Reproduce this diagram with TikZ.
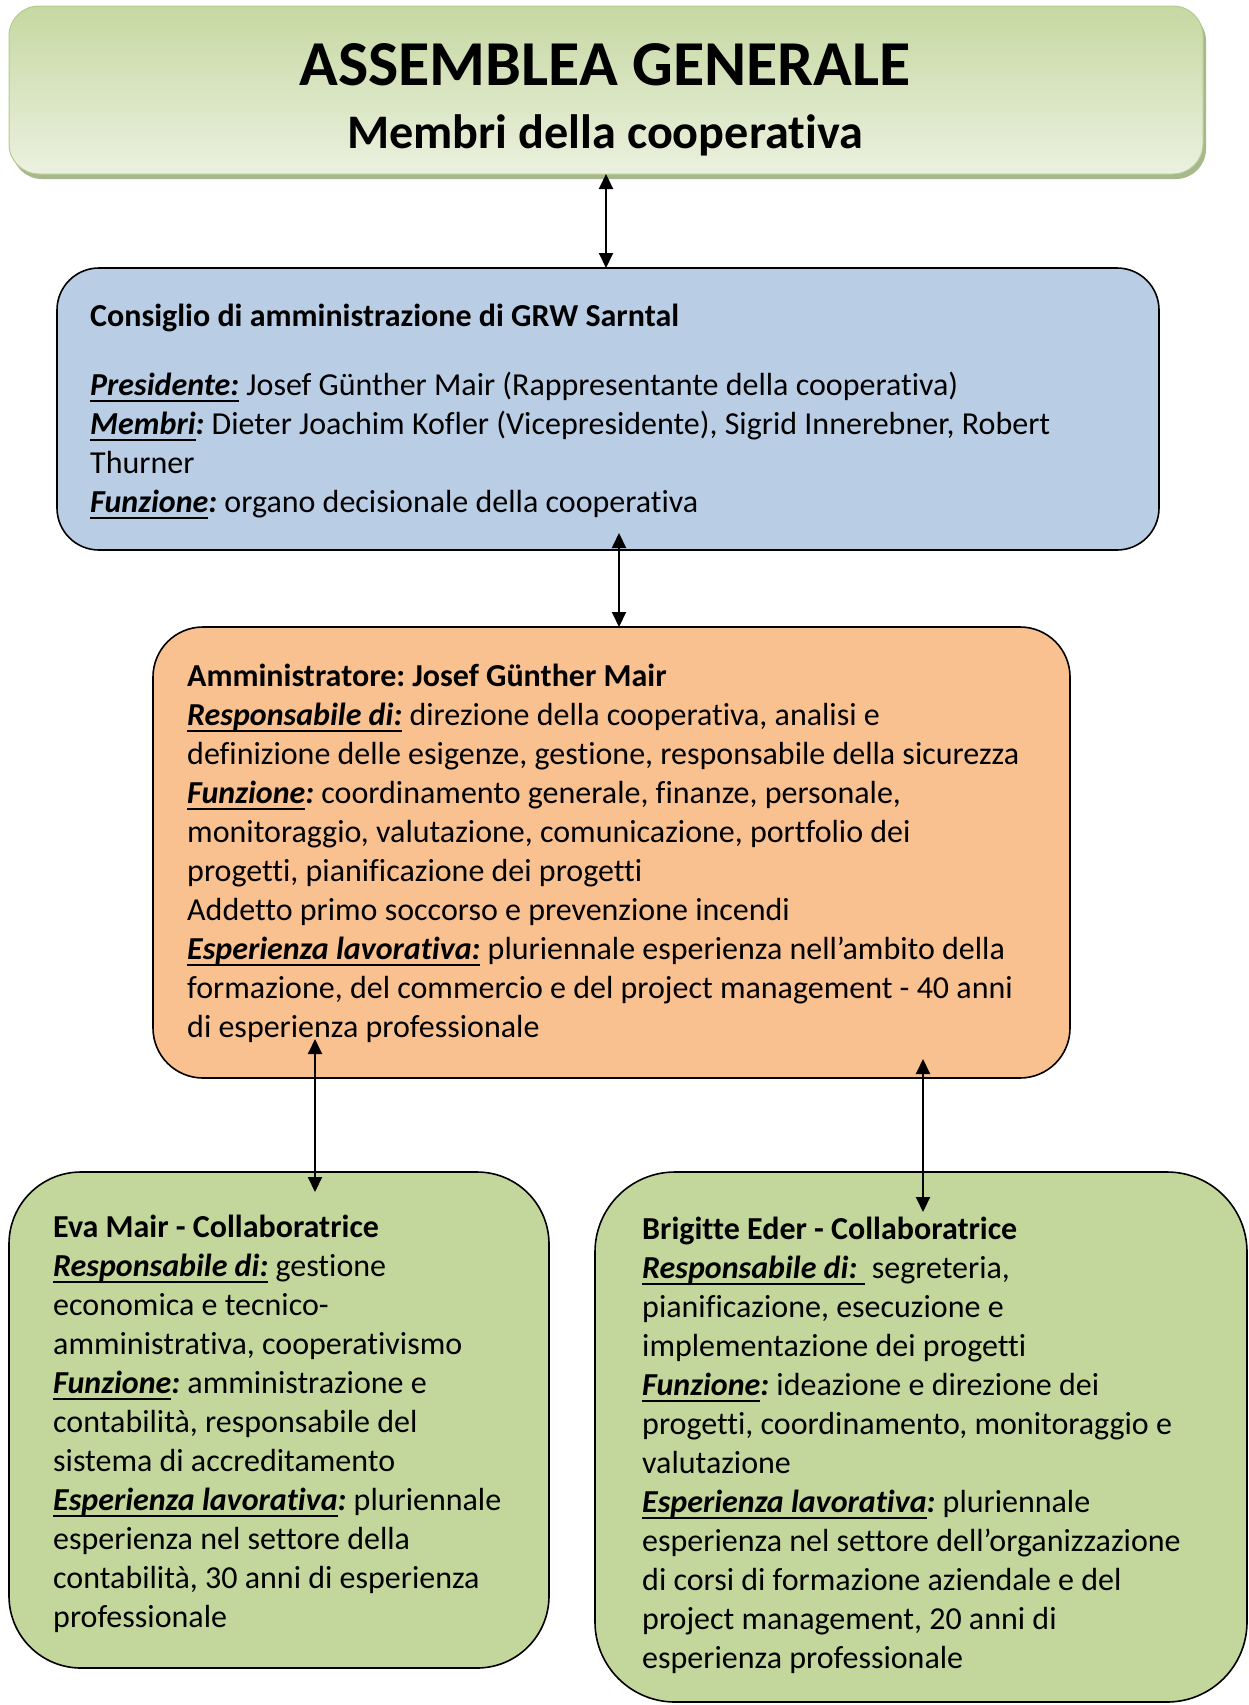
\documentclass[tikz,border=0pt]{standalone}
\usepackage{fontspec}
\setmainfont{Carlito}[Ligatures=CommonOff]
\usepackage{tikz}
\usetikzlibrary{arrows.meta}
\usetikzlibrary{shadows}
\definecolor{cdablue}{HTML}{B9CDE5}
\definecolor{ammorange}{HTML}{F9C090}
\definecolor{collgreen}{HTML}{C3D69B}
\definecolor{topdark}{HTML}{C6D8A2}
\definecolor{toplight}{HTML}{EBF1DF}
\definecolor{topborder}{HTML}{B4CA8E}
\definecolor{topshadow}{HTML}{A7B98C}
\newcommand{\sott}[1]{\setbox0\hbox{#1}\rlap{\rule[-7pt]{\wd0}{2pt}}\box0}
\newcommand{\voce}[2]{\sott{\textbf{\textit{#1}}}\textbf{\textit{#2}}}
\frenchspacing
\tikzset{
   topbox/.style={anchor=north west, inner sep=0pt, outer sep=0pt,
      rounded corners=30pt, draw=topborder, line width=1pt,
      top color=topdark, bottom color=toplight,
      drop shadow={shadow xshift=3pt, shadow yshift=-5pt, fill=topshadow, opacity=1}},
   box/.style={anchor=north west, inner sep=0pt, outer sep=0pt,
      draw=black, line width=1.6pt},
   testo/.style={anchor=north west, inner sep=0pt, align=left,
      font=\fontsize{32}{39}\selectfont},
   freccia/.style={line width=2pt,
      {Triangle[length=15pt,width=14pt]}-{Triangle[length=15pt,width=14pt]}},
    }
\begin{document}
\begin{tikzpicture}[x=1pt,y=-1pt]
            \useasboundingbox (0,0) rectangle (1248,1705);
            \node[topbox, minimum width=1194pt, minimum height=168pt] (assemblea) at (9,6) {};
            \node[box, fill=cdablue, rounded corners=42pt, minimum width=1102pt, minimum height=282pt] (consiglio) at (57,268) {};
            \node[box, fill=ammorange, rounded corners=50pt, minimum width=917pt, minimum height=451pt] (amm) at (153,627) {};
            \node[box, fill=collgreen, rounded corners=72pt, minimum width=540pt, minimum height=496pt] (eva) at (9,1172) {};
            \node[box, fill=collgreen, rounded corners=80pt, minimum width=652pt, minimum height=530pt] (brigitte) at (595,1172) {};

            \node[anchor=base, font=\fontsize{64}{72}\selectfont\bfseries] (titolo) at (605,85) {ASSEMBLEA GENERALE};
            \node[anchor=base, font=\fontsize{48.2}{56}\selectfont\bfseries] (sottotitolo) at (605,148) {Membri della cooperativa};

            \node[testo] (cdatesto) at (90,298.7) {\strut\textbf{Consiglio di amministrazione di GRW Sarntal}\\[30pt]
               \voce{Presidente:}{} Josef Günther Mair (Rappresentante della cooperativa)\\
               \voce{Membri}{:} Dieter Joachim Kofler (Vicepresidente), Sigrid Innerebner, Robert\\
               Thurner\\
               \voce{Funzione}{:} organo decisionale della cooperativa};
            \node[testo] (ammtesto) at (187,658.7) {\strut\textbf{Amministratore: Josef Günther Mair}\\
               \voce{Responsabile di:}{} direzione della cooperativa, analisi e\\
               definizione delle esigenze, gestione, responsabile della sicurezza\\
               \voce{Funzione}{:} coordinamento generale, finanze, personale,\\
               monitoraggio, valutazione, comunicazione, portfolio dei\\
               progetti, pianificazione dei progetti\\
               Addetto primo soccorso e prevenzione incendi\\
               \voce{Esperienza lavorativa:}{} pluriennale esperienza nell’ambito della\\
               formazione, del commercio e del project management - 40 anni\\
               di esperienza professionale};
            \node[testo] (evatesto) at (53,1209.7) {\strut\textbf{Eva Mair - Collaboratrice}\\
               \voce{Responsabile di:}{} gestione\\
               economica e tecnico-\\
               amministrativa, cooperativismo\\
               \voce{Funzione}{:} amministrazione e\\
               contabilità, responsabile del\\
               sistema di accreditamento\\
               \voce{Esperienza lavorativa}{:} pluriennale\\
               esperienza nel settore della\\
               contabilità, 30 anni di esperienza\\
               professionale};
            \node[testo] (brigittetesto) at (642,1211.7) {\strut\textbf{Brigitte Eder - Collaboratrice}\\
               \voce{Responsabile di:\ }{} segreteria,\\
               pianificazione, esecuzione e\\
               implementazione dei progetti\\
               \voce{Funzione}{:} ideazione e direzione dei\\
               progetti, coordinamento, monitoraggio e\\
               valutazione\\
               \voce{Esperienza lavorativa}{:} pluriennale\\
               esperienza nel settore dell’organizzazione\\
               di corsi di formazione aziendale e del\\
               project management, 20 anni di\\
               esperienza professionale};

            \coordinate (cdapunta) at (619,533);
            \coordinate (ammpuntaL) at (315,1039);
            \coordinate (ammpuntaR) at (923,1059);
            \coordinate (evapunta) at (315,1192);
            \coordinate (brigpunta) at (923,1212);
            \draw[freccia] (assemblea.south) -- (assemblea.south |- consiglio.north);
            \draw[freccia] (cdapunta) -- (cdapunta |- amm.north);
            \draw[freccia] (ammpuntaL) -- (evapunta);
            \draw[freccia] (ammpuntaR) -- (brigpunta);
        \end{tikzpicture}
\end{document}
